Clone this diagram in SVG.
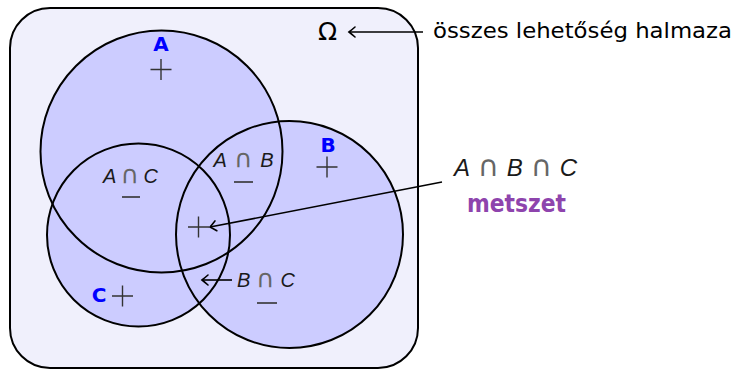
<svg xmlns="http://www.w3.org/2000/svg" width="737" height="370" viewBox="0 0 737 370">
<style>
.fill{fill:#ccccff;stroke:none}
.ring{fill:none;stroke:#000;stroke-width:2}
.plus{fill:none;stroke:#333;stroke-width:1.4}
.dash{stroke:#333;stroke-width:1.6}
.set{font-family:"DejaVu Sans",sans-serif;font-weight:bold;font-size:20px;fill:#0000ff;text-anchor:middle}
.math{font-family:"Liberation Sans",sans-serif;font-style:italic;font-size:20px;fill:#1a1a1a;text-anchor:middle}
.cap{font-family:"DejaVu Sans",sans-serif;font-style:normal;font-size:25px;fill:#666}
.txt{font-family:"DejaVu Sans",sans-serif;font-size:22px;fill:#000}
.conn{fill:none;stroke:#000;stroke-width:1.6}
</style>
<defs>
<marker id="to" markerUnits="userSpaceOnUse" orient="auto" overflow="visible" markerWidth="12" markerHeight="12" refX="0" refY="0">
<path d="M -6 -5 Q -2 -1.5 0 0 Q -2 1.5 -6 5" fill="none" stroke="#000" stroke-width="1.6" stroke-linecap="round"/>
</marker>
<path id="pl" d="M -10.5 0 H 10.5 M 0 -10.5 V 10.5"/>
</defs>

<g id="omega">
<rect x="10" y="8" width="408" height="360" rx="40" ry="40" fill="#f0f0fc" stroke="#000" stroke-width="2"/>
<text x="327.5" y="40" font-family="DejaVu Sans,sans-serif" font-size="25" text-anchor="middle">Ω</text>
</g>

<g id="fills">
<circle class="fill" cx="161.5" cy="151.5" r="121"/>
<circle class="fill" cx="289.5" cy="234.5" r="113.5"/>
<circle class="fill" cx="138.5" cy="235" r="91.5"/>
</g>

<g id="set-A">
<circle class="ring" cx="161.5" cy="151.5" r="121"/>
<text class="set" x="161" y="51">A</text>
<use href="#pl" class="plus" transform="translate(161,69.5)"/>
</g>

<g id="set-B">
<circle class="ring" cx="289.5" cy="234.5" r="113.5"/>
<text class="set" x="328" y="152">B</text>
<use href="#pl" class="plus" transform="translate(327,167)"/>
</g>

<g id="set-C">
<circle class="ring" cx="138.5" cy="235" r="91.5"/>
<text class="set" x="99" y="302">C</text>
<use href="#pl" class="plus" transform="translate(122.5,296)"/>
</g>

<g id="AC">
<text class="math" x="130.5" y="183" textLength="55" lengthAdjust="spacing">A<tspan class="cap" dx="2">∩</tspan><tspan dx="2">C</tspan></text>
<line class="dash" x1="122" y1="197" x2="140" y2="197"/>
</g>

<g id="AB">
<text class="math" x="243.5" y="167" textLength="60" lengthAdjust="spacing">A<tspan class="cap" dx="2">∩</tspan><tspan dx="2">B</tspan></text>
<line class="dash" x1="234" y1="182" x2="253" y2="182"/>
</g>

<g id="BC">
<text class="math" x="266" y="287" textLength="58" lengthAdjust="spacing">B<tspan class="cap" dx="2">∩</tspan><tspan dx="2">C</tspan></text>
<line class="dash" x1="257" y1="303" x2="277" y2="303"/>
</g>

<g id="ABC">
<use href="#pl" class="plus" transform="translate(198.5,227)"/>
</g>

<g id="omega-label">
<text class="txt" x="433" y="37.5" textLength="299" lengthAdjust="spacingAndGlyphs">összes lehetőség halmaza</text>
</g>

<g id="abc-label">
<text class="math" x="515.5" y="176" textLength="123" lengthAdjust="spacing" style="font-size:24px">A<tspan class="cap" dx="3" style="font-size:29px">∩</tspan><tspan dx="3">B</tspan><tspan class="cap" dx="3" style="font-size:29px">∩</tspan><tspan dx="3">C</tspan></text>
<text x="516.5" y="212" font-family="DejaVu Sans,sans-serif" font-weight="bold" font-size="25" fill="#8e44ad" text-anchor="middle" textLength="99" lengthAdjust="spacingAndGlyphs">metszet</text>
</g>

<g id="connectors">
<line class="conn" x1="423" y1="32" x2="349" y2="32" marker-end="url(#to)"/>
<line class="conn" x1="442" y1="182" x2="210" y2="227" stroke-width="2.2" marker-end="url(#to)"/>
<line class="conn" x1="232" y1="280" x2="202" y2="280" marker-end="url(#to)"/>
</g>
</svg>
